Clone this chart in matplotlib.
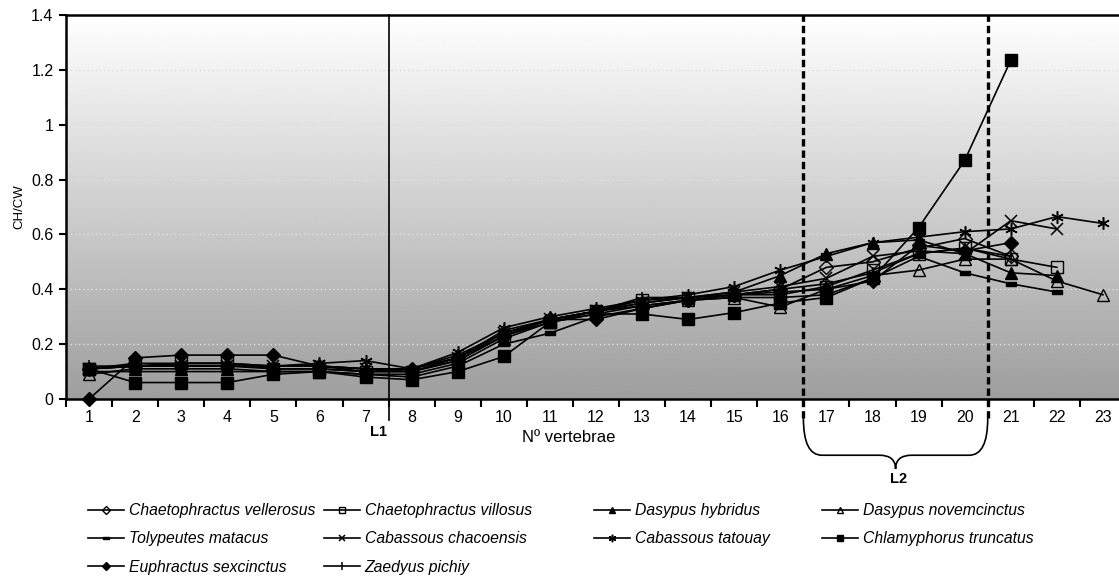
import numpy as np
import matplotlib
matplotlib.use("Agg")
import matplotlib.pyplot as plt
from matplotlib.path import Path
from matplotlib.patches import PathPatch

plt.rcParams['font.family'] = ['Liberation Sans', 'DejaVu Sans']

vertebrae = list(range(1, 24))
ytick_vals = [0, 0.2, 0.4, 0.6, 0.8, 1.0, 1.2, 1.4]
ytick_labels = ['0', '0.2', '0.4', '0.6', '0.8', '1', '1.2', '1.4']

vellerosus   = [0.11, 0.12, 0.12, 0.12, 0.11, 0.11, 0.10, 0.10, 0.14, 0.23, 0.29, 0.32, 0.34, 0.36, 0.38, 0.40, 0.48, 0.50, 0.55, 0.585, 0.52]
villosus     = [0.11, 0.12, 0.13, 0.13, 0.11, 0.11, 0.10, 0.10, 0.14, 0.23, 0.28, 0.32, 0.36, 0.37, 0.38, 0.38, 0.41, 0.47, 0.53, 0.55, 0.51, 0.48]
hybridus     = [0.11, 0.13, 0.13, 0.13, 0.12, 0.12, 0.11, 0.11, 0.16, 0.24, 0.29, 0.32, 0.35, 0.37, 0.39, 0.45, 0.53, 0.57, 0.58, 0.53, 0.46, 0.45]
novemcinctus = [0.09, 0.11, 0.11, 0.11, 0.10, 0.10, 0.09, 0.09, 0.13, 0.22, 0.28, 0.31, 0.34, 0.36, 0.37, 0.335, 0.40, 0.45, 0.47, 0.51, 0.51, 0.43, 0.38]
matacus      = [0.10, 0.10, 0.10, 0.10, 0.10, 0.10, 0.09, 0.08, 0.12, 0.20, 0.24, 0.30, 0.33, 0.36, 0.37, 0.37, 0.38, 0.44, 0.52, 0.46, 0.42, 0.39]
chacoensis   = [0.11, 0.12, 0.12, 0.12, 0.12, 0.12, 0.11, 0.10, 0.15, 0.24, 0.29, 0.32, 0.35, 0.37, 0.39, 0.41, 0.44, 0.52, 0.54, 0.53, 0.65, 0.62]
tatouay      = [0.11, 0.12, 0.12, 0.12, 0.12, 0.13, 0.14, 0.11, 0.17, 0.26, 0.30, 0.33, 0.36, 0.38, 0.41, 0.47, 0.52, 0.57, 0.59, 0.61, 0.62, 0.665, 0.64]
truncatus    = [0.11, 0.06, 0.06, 0.06, 0.09, 0.10, 0.08, 0.07, 0.10, 0.155, 0.28, 0.31, 0.31, 0.29, 0.315, 0.35, 0.37, 0.44, 0.625, 0.87, 1.235]
sexcinctus   = [0.0, 0.15, 0.16, 0.16, 0.16, 0.12, 0.10, 0.11, 0.15, 0.23, 0.29, 0.29, 0.33, 0.36, 0.38, 0.39, 0.40, 0.43, 0.56, 0.54, 0.57]
pichiy       = [0.12, 0.12, 0.13, 0.13, 0.12, 0.12, 0.11, 0.11, 0.15, 0.25, 0.29, 0.32, 0.37, 0.37, 0.38, 0.40, 0.42, 0.46, 0.53, 0.55, 0.52]

dash_marker = [(-1, -0.45), (1, -0.45), (1, 0.45), (-1, 0.45), (-1, -0.45)]

series = [
    ("Chaetophractus vellerosus", vellerosus, dict(marker='D', mfc='none', ms=7)),
    ("Chaetophractus villosus", villosus, dict(marker='s', mfc='none', ms=8)),
    ("Dasypus hybridus", hybridus, dict(marker='^', mfc='black', ms=8)),
    ("Dasypus novemcinctus", novemcinctus, dict(marker='^', mfc='none', ms=8)),
    ("Tolypeutes matacus", matacus, dict(marker=dash_marker, mfc='black', ms=7)),
    ("Cabassous chacoensis", chacoensis, dict(marker='x', ms=8, mew=1.1)),
    ("Cabassous tatouay", tatouay, dict(marker=(6, 2, 0), ms=9, mew=1.1)),
    ("Chlamyphorus truncatus", truncatus, dict(marker='s', mfc='black', ms=8)),
    ("Euphractus sexcinctus", sexcinctus, dict(marker='D', mfc='black', ms=7)),
    ("Zaedyus pichiy", pichiy, dict(marker='|', ms=9, mew=1.1)),
]

W, H = 1119, 576
fig = plt.figure(figsize=(W / 100, H / 100), dpi=100)
ax = fig.add_axes([66 / W, (576 - 399) / H, (1126 - 66) / W, 384 / H])

# gradient background
grad = np.linspace(0.62, 1.0, 256).reshape(-1, 1)
ax.imshow(grad, cmap='gray', vmin=0, vmax=1, origin='lower', aspect='auto',
          extent=(0.5, 23.5, 0, 1.4), zorder=0, interpolation='bilinear')

ax.set_xlim(0.5, 23.5)
ax.set_ylim(0, 1.4)

for v in ytick_vals[1:-1]:
    ax.axhline(v, color='#dedede', lw=1.0, ls=(0, (1, 2)), zorder=1)

handles = {}
for name, vals, st in series:
    x = vertebrae[:len(vals)]
    ln, = ax.plot(x, vals, color='black', lw=1.2, mec='black', zorder=3, clip_on=False,
                  **st)
    handles[name] = ln

for s in ['left', 'bottom', 'top']:
    ax.spines[s].set_linewidth(1.8)
    ax.spines[s].set_color('black')
ax.spines['right'].set_visible(False)

ax.set_yticks(ytick_vals)
ax.set_yticklabels(ytick_labels, fontsize=11.5)
ax.tick_params(axis='y', direction='out', length=5, width=1.5, pad=4)

ax.set_xticks(vertebrae)
ax.set_xticklabels([str(v) for v in vertebrae], fontsize=11.5)
ax.set_xticks(np.arange(0.5, 24, 1.0), minor=True)
ax.tick_params(axis='x', which='major', length=0, pad=8)
ax.tick_params(axis='x', which='minor', direction='out', length=6, width=1.5)

ax.set_ylabel('CH/CW', fontsize=9.5)
ax.yaxis.set_label_coords(-41 / 1060, 0.5)
ax.text(11.4, -0.139, 'Nº vertebrae', fontsize=12, ha='center', va='center')

# L1 line
ax.plot([7.5, 7.5], [-0.078, 1.4], color='black', lw=1.2, zorder=4, clip_on=False)
ax.text(7.28, -0.121, 'L1', fontsize=10.5, fontweight='bold', ha='center', va='center')

# L2 dashed lines
for xv in (16.5, 20.5):
    ax.plot([xv, xv], [-0.07, 1.4], color='black', lw=2.4, ls=(0, (2.2, 1.2)), zorder=4,
            clip_on=False)

# brace
verts = [(16.5, -0.07), (16.5, -0.205), (16.9, -0.205),
         (18.15, -0.205),
         (18.5, -0.205), (18.5, -0.255),
         (18.5, -0.205), (18.85, -0.205),
         (20.1, -0.205),
         (20.5, -0.205), (20.5, -0.07)]
codes = [Path.MOVETO, Path.CURVE3, Path.CURVE3,
         Path.LINETO,
         Path.CURVE3, Path.CURVE3,
         Path.CURVE3, Path.CURVE3,
         Path.LINETO,
         Path.CURVE3, Path.CURVE3]
ax.add_patch(PathPatch(Path(verts, codes), fill=False, lw=1.2, ec='black', clip_on=False))
ax.text(18.57, -0.29, 'L2', fontsize=10.5, fontweight='bold', ha='center', va='center')

# legend (4 columns placed individually)
cols = [
    ["Chaetophractus vellerosus", "Tolypeutes matacus", "Euphractus sexcinctus"],
    ["Chaetophractus villosus", "Cabassous chacoensis", "Zaedyus pichiy"],
    ["Dasypus hybridus", "Cabassous tatouay"],
    ["Dasypus novemcinctus", "Chlamyphorus truncatus"],
]
col_x = [88, 324, 594, 822]
for names, cx in zip(cols, col_x):
    fig.legend([handles[n] for n in names], names, loc='upper left',
               bbox_to_anchor=(cx / W, 1 - 503 / H), frameon=False,
               prop=dict(style='italic', size=11.3), handlelength=2.3,
               handletextpad=0.3, labelspacing=0.85, markerscale=0.6,
               borderaxespad=0, borderpad=0)

fig.savefig('out.png', dpi=100)
